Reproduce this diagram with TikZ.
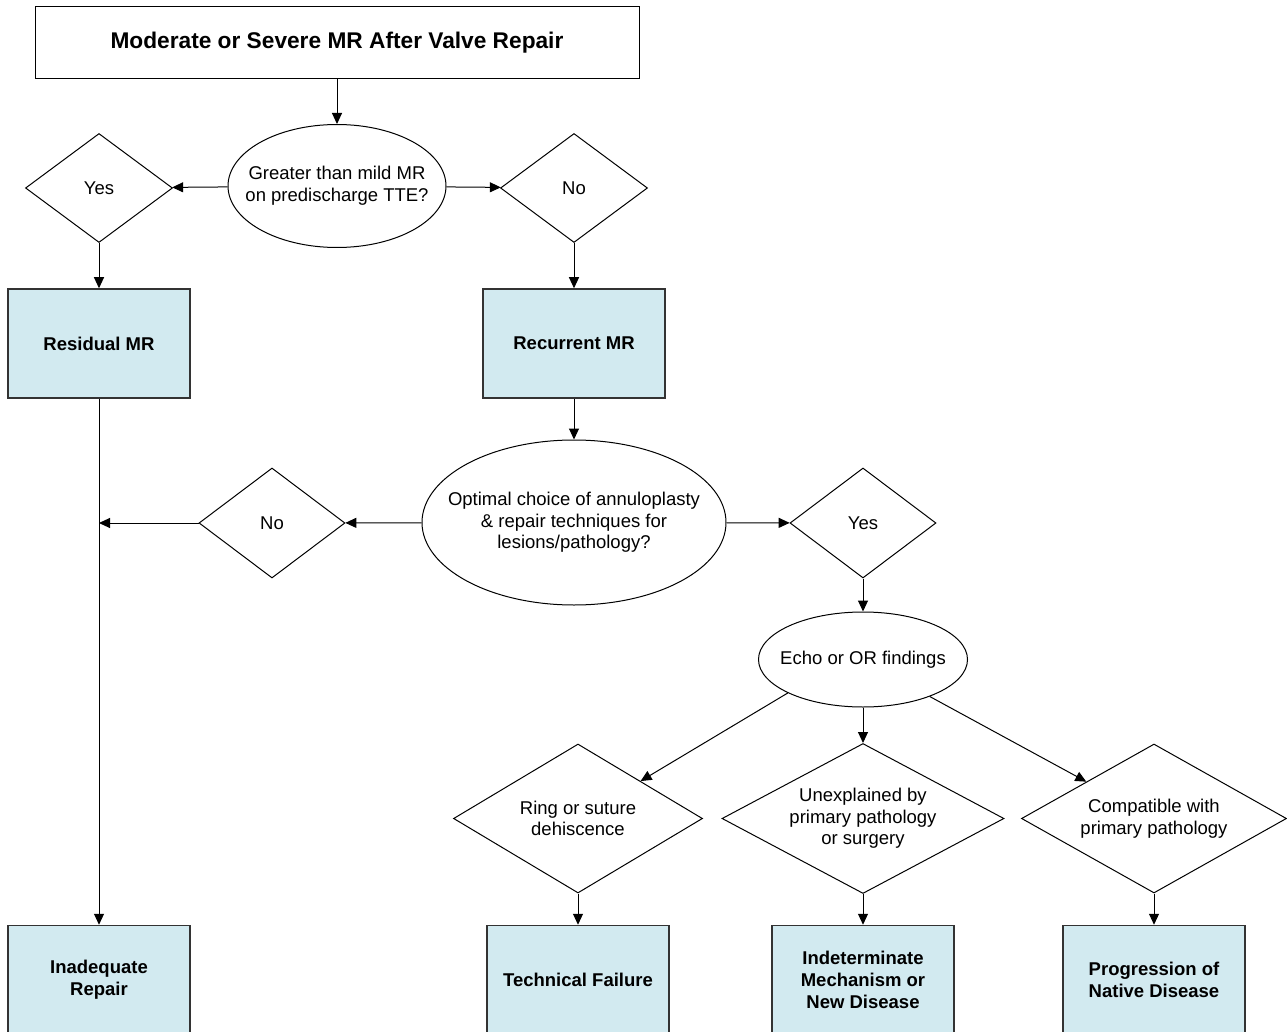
\documentclass[tikz,border=0pt]{standalone}
\usepackage{fontspec}
\setmainfont{Liberation Sans}
\usetikzlibrary{shapes.geometric,arrows.meta}
\definecolor{boxblue}{RGB}{210,234,240}
\begin{document}
\begin{tikzpicture}[x=1pt,y=-1pt,
    txt/.style={font=\fontsize{18.5}{21.7}\selectfont, align=center},
    bluebox/.style={draw=black!80, line width=1.5pt, fill=boxblue, inner sep=0pt,
        minimum width=182pt, minimum height=109pt, align=center,
        font=\fontsize{18.5}{21.7}\selectfont\bfseries},
    choice/.style={draw, line width=1pt, diamond, aspect=1.8, inner sep=0pt, txt},
    question/.style={draw, line width=1pt, ellipse, inner sep=0pt},
    flow/.style={line width=1pt, -{Triangle[length=11pt,width=10pt]}}]
                % Marco de la figura (pixeles del original)
                \useasboundingbox (0,0) rectangle (1287,1032);

                % Columnas y filas
                \def\colL{99}     % columna izquierda
                \def\colM{574}    % columna central
                \def\colR{863}    % columna derecha
                \def\rowB{980}    % fila de cajas finales

                % Titulo
                \node[draw, line width=1pt, minimum width=604pt, minimum height=72pt,
                    font=\fontsize{22.7}{26}\selectfont\bfseries] (top) at (337,43)
                    {Moderate or Severe MR After Valve Repair};

                % Primera pregunta y sus respuestas
                \node[question, minimum width=218pt, minimum height=123pt,
                    label={[txt]center:{Greater than mild MR\\on predischarge TTE?}}] (q1) at (337,186) {};
                \node[choice, minimum width=147pt, minimum height=109pt] (yes1) at (\colL,188) {Yes};
                \node[choice, minimum width=147pt, minimum height=109pt] (no1) at (\colM,188) {No};

                % Cajas intermedias
                \node[bluebox] (residual) at (\colL,343.5) {Residual MR};
                \node[bluebox] (recurrent) at (\colM,343.5) {Recurrent MR};

                % Segunda pregunta
                \node[question, minimum width=304pt, minimum height=165pt,
                    label={[txt]center:{Optimal choice of annuloplasty\\\& repair techniques for\\lesions/pathology?}}] (q2) at (\colM,522.5) {};
                \node[choice, minimum width=146pt, minimum height=110pt] (no2) at (272,523) {No};
                \node[choice, minimum width=146pt, minimum height=110pt] (yes2) at (\colR,523) {Yes};
                \coordinate (join) at (\colL,523);

                % Hallazgos
                \node[question, minimum width=209pt, minimum height=95pt,
                    label={[txt]center:Echo or OR findings}] (echo) at (\colR,659.5) {};
                \node[choice, minimum width=249pt, minimum height=149pt] (ring) at (578,818.5) {Ring or suture\\dehiscence};
                \node[choice, minimum width=282pt, minimum height=150pt] (unexpl) at (\colR,818.5) {Unexplained by\\primary pathology\\or surgery};
                \node[choice, minimum width=265pt, minimum height=149pt] (compat) at (1154,818.5) {Compatible with\\primary pathology};

                % Cajas finales
                \node[bluebox] (inadequate) at (\colL,\rowB) {Inadequate\\Repair};
                \node[bluebox] (technical) at (578,\rowB) {Technical Failure};
                \node[bluebox] (indet) at (\colR,\rowB) {Indeterminate\\Mechanism or\\New Disease};
                \node[bluebox] (progress) at (1154,\rowB) {Progression of\\Native Disease};

                % Flechas
                \draw[flow] (top) -- (q1);
                \draw[flow] (q1) -- (yes1);
                \draw[flow] (q1) -- (no1);
                \draw[flow] (yes1) -- (residual);
                \draw[flow] (no1) -- (recurrent);
                \draw[flow] (recurrent) -- (q2);
                \draw[flow] (q2) -- (no2);
                \draw[flow] (no2) -- (join);
                \draw[flow] (residual) -- (inadequate);
                \draw[flow] (q2) -- (yes2);
                \draw[flow] (yes2) -- (echo);
                \draw[flow] (echo.204) -- (ring);
                \draw[flow] (echo) -- (unexpl);
                \draw[flow] (echo.331) -- (compat);
                \draw[flow] (ring) -- (technical);
                \draw[flow] (unexpl) -- (indet);
                \draw[flow] (compat) -- (progress);
\end{tikzpicture}
\end{document}
